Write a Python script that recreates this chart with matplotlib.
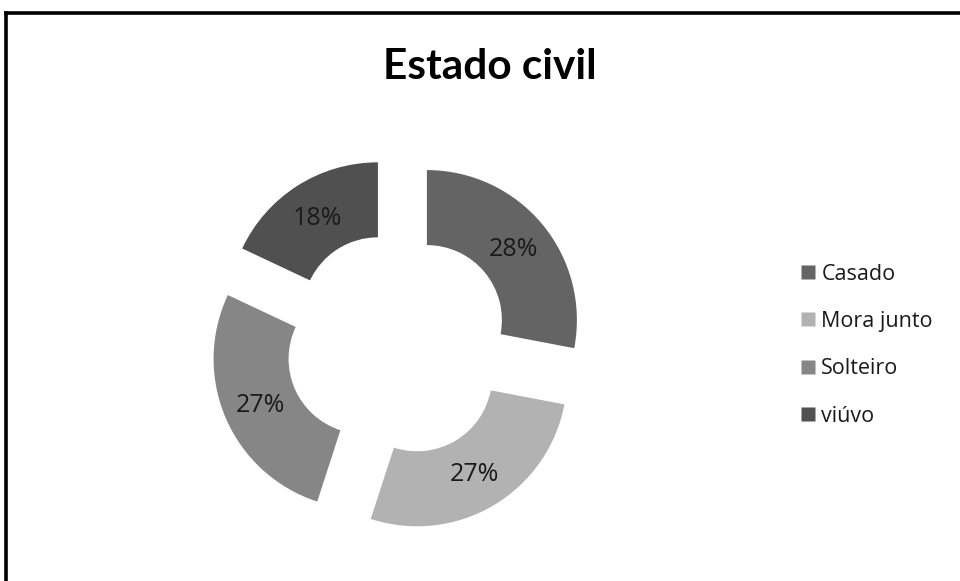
import matplotlib
matplotlib.use("Agg")
import matplotlib.pyplot as plt
from matplotlib.lines import Line2D
import numpy as np

categories = ["Casado", "Mora junto", "Solteiro", "viúvo"]
values = [28, 27, 27, 18]
labels = ["28%", "27%", "27%", "18%"]
colors = ["#646464", "#b2b2b2", "#868686", "#505050"]
title = "Estado civil"

plt.rcParams['font.family'] = ['Open Sans', 'DejaVu Sans']

W, H = 960, 581
fig = plt.figure(figsize=(W / 100, H / 100), dpi=100)

# pie axes: center ~ (398, 344) px, outer radius ~150 px
cx, cy, R = 398, 344, 150
half = 200
ax = fig.add_axes([(cx - half) / W, (H - cy - half) / H, 2 * half / W, 2 * half / H])
ax.set_aspect('equal')
ax.axis('off')

wedges, _ = ax.pie(values, colors=colors, startangle=90, counterclock=False,
                   radius=1.0, explode=[0.25] * len(values),
                   wedgeprops=dict(width=0.5, edgecolor='none'))

total = sum(values)
cum = 0
for v, lab in zip(values, labels):
    mid = 90 - (cum + v / 2) / total * 360
    cum += v
    rad = np.deg2rad(mid)
    r = 0.25 + 0.75
    ax.text(r * np.cos(rad), r * np.sin(rad) - 0.01, lab, ha='center', va='center',
            fontsize=18, color='#1a1a1a')
ax.set_xlim(-half / R, half / R)
ax.set_ylim(-half / R, half / R)

fig.text(490 / W, 1 - 67 / H, title, ha='center', va='center',
         fontsize=30.5, fontweight='bold', color='black', family=['Lato', 'DejaVu Sans'])

handles = [Line2D([0], [0], marker='s', linestyle='none', markersize=9.5,
                  markerfacecolor=c, markeredgecolor='none') for c in colors]
leg = fig.legend(handles, categories, loc='upper left',
                 bbox_to_anchor=(789 / W, 1 - 253 / H), frameon=False,
                 fontsize=15.5, handlelength=0.8, handletextpad=0.2,
                 labelspacing=1.22, borderpad=0)
for t in leg.get_texts():
    t.set_color('#1a1a1a')

# border (top and left visible)
fig.add_artist(Line2D([6 / W, 1.0], [1 - 13 / H, 1 - 13 / H], color='black',
                      linewidth=2.6, transform=fig.transFigure))
fig.add_artist(Line2D([6 / W, 6 / W], [0, 1 - 13 / H], color='black',
                      linewidth=2.6, transform=fig.transFigure))

fig.savefig("out.png", dpi=100, facecolor='white')
